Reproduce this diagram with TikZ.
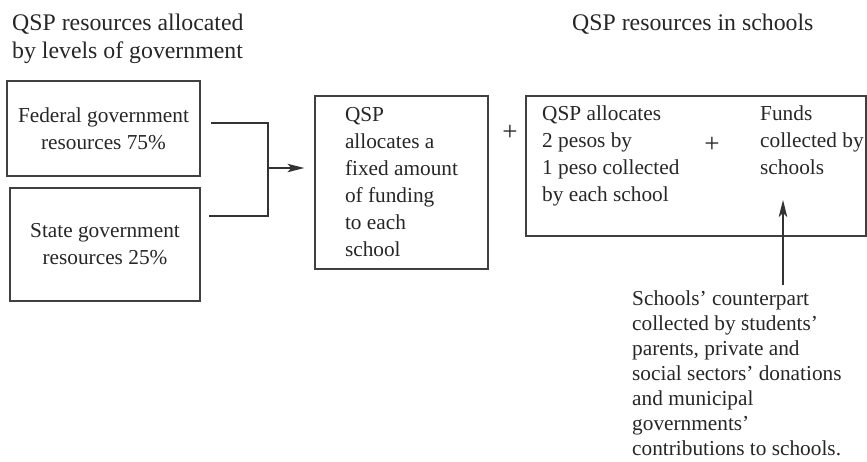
\documentclass[tikz,border=0pt]{standalone}
\usepackage{fontspec}
\setmainfont{Liberation Serif}
\usetikzlibrary{arrows.meta}
\begin{document}
\begin{tikzpicture}[x=1pt,y=-1pt,
  txt/.style={font=\fontsize{21.3}{27}\selectfont, text=black!85, inner sep=0pt},
  head/.style={font=\fontsize{23.8}{28}\selectfont, text=black!85, inner sep=0pt},
  plus/.style={font=\fontsize{27}{27}\selectfont, text=black!85, inner sep=0pt},
  box/.style={draw=black!75, line width=1.2pt, txt, align=center},
  link/.style={draw=black!80, line width=1.2pt},
  arr/.style={link, -{Stealth[length=17pt,width=8.5pt,inset=4pt]}}]
\useasboundingbox (0,0) rectangle (867,461);
% headings
\node[head, anchor=north west, align=left] (hdlevels) at (12,13.7) {QSP resources allocated\\by levels of government};
\node[head, anchor=base west] (hdschools) at (572,30) {QSP resources in schools};
% government boxes
\node[box, minimum width=193, minimum height=95] (federal) at (103.5,128.5) {Federal government\\resources 75\%};
\node[box, minimum width=190, minimum height=113] (state) at (105,244.5) {State government\\resources 25\%};
% QSP box
\node[box, align=left, minimum width=173, minimum height=173] (qsp) at (401.5,182.5) {QSP\\allocates a\\fixed amount\\of funding\\to each\\school};
% school box
\node[draw=black!75, line width=1.2pt, minimum width=340, minimum height=140] (schoolbox) at (696,166) {};
\node[txt, anchor=north west, align=left] (matching) at (542,105.5) {QSP allocates\\2 pesos by\\1 peso collected\\by each school};
\node[txt, anchor=north west, align=left] (funds) at (760,105.5) {Funds\\collected by\\schools};
\node[plus] (plusin) at (712,145) {+};
\node[plus] (plusout) at (510,133) {+};
% counterpart note
\node[txt, anchor=north west, align=left, font=\fontsize{21.3}{25}\selectfont] (counterpart) at (632,290.5) {Schools' counterpart\\collected by students'\\parents, private and\\social sectors' donations\\and municipal\\governments'\\contributions to schools.};
% connectors
\coordinate (fedend) at (211,123);
\coordinate (stateend) at (209,216);
\coordinate (join) at (268,168);
\draw[link] (fedend) -- (fedend -| join) -- (stateend -| join) -- (stateend);
\draw[arr, shorten >=10pt] (join) -- (join -| qsp.west);
\coordinate (tail) at (783,285);
\coordinate (tip) at (783,200);
\draw[arr] (tail) -- (tip);
\end{tikzpicture}
\end{document}
